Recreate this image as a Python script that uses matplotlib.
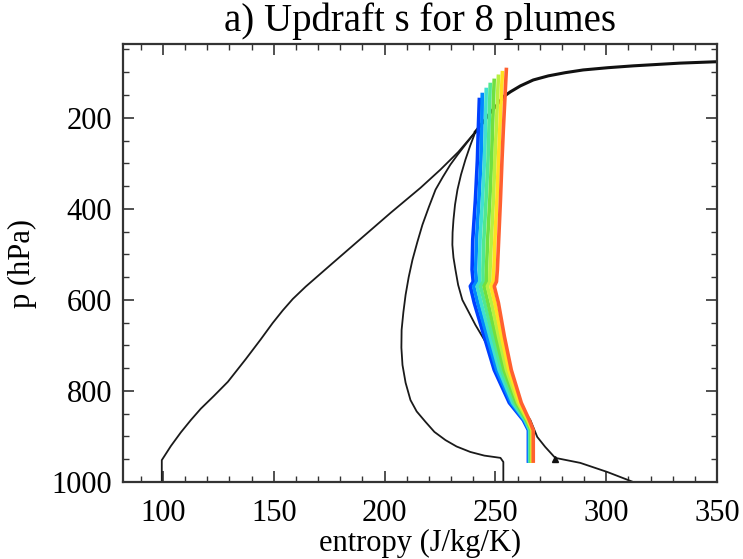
import matplotlib
matplotlib.use("Agg")
import matplotlib.pyplot as plt
from matplotlib.ticker import MultipleLocator

plt.rcParams['font.family'] = ['Liberation Serif', 'DejaVu Serif']

# black profiles below the common point (entropy J/kg/K, pressure hPa)
S_ENV1 = [99.5, 99.5, 103.6, 108.1, 112.6, 117.1, 123.0, 129.3, 137.4, 144.1, 149.5, 154.1,
          158.6, 164.4, 175.7, 189.2, 202.7, 216.2, 225.2, 233.3, 241.0]
P_ENV1 = [1000, 952, 921, 891, 864, 839, 811, 780, 730, 687, 651, 623,
          598, 571, 523, 466, 409, 354, 314, 275, 231]

S_ENV2 = [253.6, 253.6, 252.3, 245.0, 238.7, 232.5, 227.5, 222.5, 218.5, 214.5, 211.7, 209.5, 208.1,
          207.6, 207.7, 208.5, 209.5, 210.9, 212.6, 214.8, 217.1, 220.0, 223.0, 226.3, 229.7,
          233.0, 236.5, 241.0]
P_ENV2 = [1000, 956, 947, 942, 934, 922, 908, 890, 868, 845, 820, 782, 743,
          705, 666, 627, 589, 550, 512, 473, 435, 396, 358, 330, 303,
          281, 259, 231]

S_ENV3 = [312.2, 300.5, 288.3, 277.0, 272.5, 268.9, 265.8, 261.3, 258.0, 254.5, 251.0, 247.7, 244.3,
          241.0, 238.0, 235.1, 233.2, 232.0, 231.1, 230.6, 230.7, 231.1, 231.8, 232.9, 234.5,
          236.5, 238.6, 241.0]
P_ENV3 = [1000, 978, 958, 947, 923, 901, 864, 831, 801, 771, 740, 710, 682,
          655, 627, 600, 567, 534, 507, 479, 452, 424, 391, 358, 325,
          292, 262, 231]

# shared upper part
S_TOP = [241.0, 244.6, 247.7, 250.9, 253.6, 256.8, 261.3, 267.1, 273.9, 281.5, 289.6, 300.9,
         312.2, 333.3, 349.5, 360.0]
P_TOP = [231, 209, 189, 171, 154, 143, 130, 117, 108, 101, 95, 90,
         86, 80, 77, 76]

# plumes
P_PLUME = [958, 886, 864, 826, 754, 681, 607, 570, 560, 534, 468, 380, 292, 226]
S_PLUME = [
    [264.9, 264.9, 262.6, 256.3, 249.5, 245.0, 240.5, 238.7, 240.0, 239.5, 239.8, 241.0, 241.9, 242.3],
    [265.2, 265.2, 263.0, 257.1, 250.6, 246.3, 242.1, 240.2, 241.5, 241.1, 241.5, 242.6, 243.5, 243.9],
    [265.5, 265.5, 263.4, 257.8, 251.7, 247.6, 243.6, 241.8, 243.0, 242.8, 243.1, 244.2, 245.1, 245.5],
    [265.8, 265.8, 263.8, 258.6, 252.8, 248.9, 245.2, 243.3, 244.5, 244.4, 244.8, 245.8, 246.7, 247.1],
    [266.2, 266.2, 264.1, 259.4, 253.9, 250.2, 246.7, 244.9, 246.0, 246.0, 246.5, 247.5, 248.3, 248.7],
    [266.5, 266.5, 264.5, 260.2, 255.0, 251.5, 248.3, 246.4, 247.5, 247.6, 248.2, 249.1, 249.8, 250.4],
    [266.8, 266.8, 264.9, 260.9, 256.1, 252.8, 249.8, 248.0, 249.0, 249.3, 249.8, 250.7, 251.4, 252.0],
    [267.1, 267.1, 265.3, 261.7, 257.2, 254.1, 251.4, 249.5, 250.5, 250.9, 251.5, 252.3, 253.0, 253.6],
]
TOP_S = [242.8, 244.1, 245.9, 247.7, 249.5, 251.4, 253.2, 255.0]
TOP_P = [156, 145, 134, 123, 114, 105, 97, 90]
COLORS = ['#0040ff', '#0088ff', '#40e0d0', '#50e890', '#70e040', '#b8f040', '#ffe020', '#ff6030']

fig = plt.figure(figsize=(7.43, 5.59), dpi=100)
ax = fig.add_axes([123 / 743, 1 - 482 / 559, (717 - 123) / 743, (482 - 44) / 559])

for s, p in [(S_ENV1, P_ENV1), (S_ENV2, P_ENV2), (S_ENV3, P_ENV3)]:
    ax.plot(s, p, color='#1a1a1a', lw=1.3, zorder=2)
ax.plot(S_TOP, P_TOP, color='#111111', lw=2.2, zorder=2)
ax.plot([277.0], [950], marker='^', ms=5, color='#111111', zorder=2)

for i in range(8):
    s = S_PLUME[i] + [TOP_S[i]]
    p = P_PLUME + [TOP_P[i]]
    ax.plot(s, p, color=COLORS[i], lw=2.6, zorder=3, solid_capstyle='butt')

ax.set_xlim(82, 350)
ax.set_ylim(1000, 38)
ax.xaxis.set_minor_locator(MultipleLocator(10))
ax.yaxis.set_minor_locator(MultipleLocator(50))
ax.set_xticks([100, 150, 200, 250, 300, 350])
ax.set_yticks([200, 400, 600, 800, 1000])
ax.tick_params(which='both', direction='in', top=True, right=True, colors='#333333',
               labelcolor='black', labelsize=22)
ax.tick_params(which='major', length=8, width=1.2)
ax.tick_params(which='minor', length=4, width=1.0)
ax.tick_params(axis='x', pad=12)
ax.tick_params(axis='y', pad=8)
for sp in ax.spines.values():
    sp.set_linewidth(1.6)
    sp.set_color('#333333')

ax.set_title('a) Updraft s for 8 plumes', fontsize=28, pad=9)
ax.set_xlabel('entropy (J/kg/K)', fontsize=22, labelpad=1)
ax.set_ylabel('p (hPa)', fontsize=22, labelpad=10)

fig.savefig('out.png', dpi=100)
